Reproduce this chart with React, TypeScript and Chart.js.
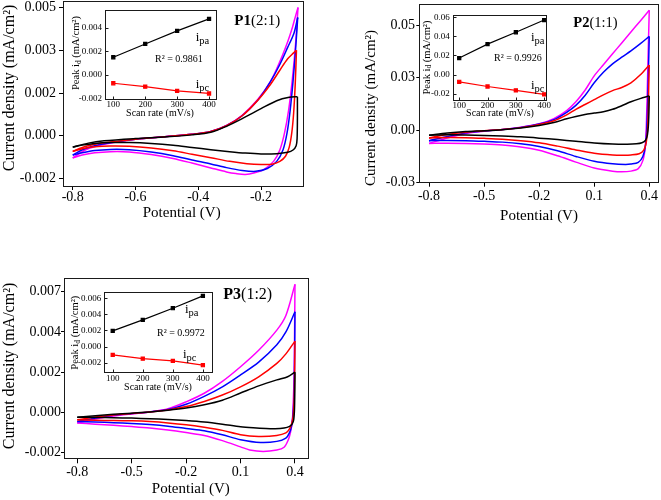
import React, { useEffect, useRef } from "react";
import { Chart, registerables } from "chart.js";
Chart.register(...registerables);

type Pt = [number, number];

// ---------------- P1 (2:1) : potential (V) vs current density ----------------
const p1BlackFwd: Pt[] = [[-0.8,-0.0004],[-0.75,-0.00026],[-0.7,-0.00018],[-0.6,-0.0001],[-0.5,-0.00004],[-0.42,0.00003],[-0.36,0.00012],[-0.31,0.00033],[-0.26,0.0006],[-0.2,0.00095],[-0.15,0.00123],[-0.11,0.00135],[-0.084,0.00137]];
const p1BlackRev: Pt[] = [[-0.084,0.00137],[-0.084,0.0006],[-0.085,-0.0001],[-0.088,-0.00035],[-0.098,-0.0005],[-0.115,-0.00058],[-0.15,-0.00063],[-0.2,-0.00064],[-0.25,-0.00061],[-0.3,-0.00056],[-0.36,-0.00049],[-0.42,-0.00041],[-0.48,-0.00033],[-0.55,-0.00027],[-0.62,-0.00024],[-0.68,-0.00024],[-0.73,-0.00027],[-0.77,-0.00033],[-0.8,-0.0004]];
const p1RedFwd: Pt[] = [[-0.8,-0.00055],[-0.76,-0.00038],[-0.7,-0.00025],[-0.6,-0.00012],[-0.5,-0.00003],[-0.42,0.00005],[-0.36,0.00015],[-0.31,0.00035],[-0.26,0.0007],[-0.21,0.00125],[-0.17,0.0018],[-0.14,0.0023],[-0.115,0.0027],[-0.097,0.0029],[-0.087,0.003]];
const p1RedRev: Pt[] = [[-0.087,0.003],[-0.091,0.0018],[-0.096,0.0008],[-0.102,0.0001],[-0.11,-0.0004],[-0.122,-0.00072],[-0.14,-0.0009],[-0.165,-0.001],[-0.2,-0.00101],[-0.245,-0.00098],[-0.3,-0.0009],[-0.36,-0.00077],[-0.42,-0.00065],[-0.48,-0.00053],[-0.55,-0.00043],[-0.62,-0.00037],[-0.68,-0.00036],[-0.73,-0.00039],[-0.77,-0.00046],[-0.8,-0.00055]];
const p1BlueFwd: Pt[] = [[-0.8,-0.00068],[-0.76,-0.00045],[-0.7,-0.00028],[-0.6,-0.00012],[-0.5,-0.00003],[-0.42,0.00005],[-0.36,0.00015],[-0.31,0.00035],[-0.26,0.0007],[-0.21,0.00125],[-0.17,0.0019],[-0.14,0.0025],[-0.115,0.0031],[-0.095,0.0036],[-0.083,0.00415]];
const p1BlueRev: Pt[] = [[-0.083,0.00415],[-0.09,0.003],[-0.098,0.0019],[-0.107,0.0009],[-0.117,0.0001],[-0.13,-0.0005],[-0.15,-0.0009],[-0.18,-0.00115],[-0.217,-0.00125],[-0.26,-0.00122],[-0.31,-0.00112],[-0.36,-0.00099],[-0.42,-0.00085],[-0.48,-0.0007],[-0.55,-0.00057],[-0.62,-0.00049],[-0.68,-0.00048],[-0.73,-0.00052],[-0.77,-0.0006],[-0.8,-0.00068]];
const p1MagentaFwd: Pt[] = [[-0.8,-0.00078],[-0.76,-0.0005],[-0.7,-0.0003],[-0.6,-0.00012],[-0.5,-0.00003],[-0.42,0.00005],[-0.36,0.00015],[-0.31,0.00036],[-0.26,0.00072],[-0.21,0.00128],[-0.17,0.0019],[-0.14,0.0026],[-0.115,0.0033],[-0.1,0.0038],[-0.09,0.0042],[-0.082,0.0045]];
const p1MagentaRev: Pt[] = [[-0.082,0.0045],[-0.09,0.0032],[-0.1,0.002],[-0.112,0.0009],[-0.125,0.0001],[-0.14,-0.0005],[-0.16,-0.0009],[-0.19,-0.00118],[-0.22,-0.0013],[-0.25,-0.00136],[-0.28,-0.00133],[-0.31,-0.00127],[-0.36,-0.00113],[-0.42,-0.00096],[-0.48,-0.0008],[-0.55,-0.00066],[-0.62,-0.00057],[-0.68,-0.00056],[-0.73,-0.0006],[-0.77,-0.00068],[-0.8,-0.00078]];

// ---------------- P2 (1:1) ----------------
const p2BlackFwd: Pt[] = [[-0.8,-0.0024],[-0.7,-0.0014],[-0.6,-0.0007],[-0.5,-0.0003],[-0.4,0.0002],[-0.3,0.001],[-0.2,0.0022],[-0.12,0.0036],[-0.05,0.0054],[0.0,0.0065],[0.05,0.0074],[0.1,0.0081],[0.15,0.0088],[0.2,0.0099],[0.25,0.0116],[0.3,0.0135],[0.35,0.015],[0.4,0.0163]];
const p2BlackRev: Pt[] = [[0.4,0.0163],[0.398,0.008],[0.395,0.002],[0.39,-0.0022],[0.38,-0.0048],[0.36,-0.006],[0.33,-0.0065],[0.28,-0.0067],[0.2,-0.0066],[0.1,-0.0061],[0.0,-0.0053],[-0.1,-0.0045],[-0.2,-0.0038],[-0.3,-0.0032],[-0.4,-0.0028],[-0.5,-0.0025],[-0.6,-0.0023],[-0.7,-0.0022],[-0.8,-0.0024]];
const p2RedFwd: Pt[] = [[-0.8,-0.0037],[-0.7,-0.0021],[-0.6,-0.001],[-0.5,-0.0003],[-0.4,0.0003],[-0.3,0.0012],[-0.2,0.0027],[-0.12,0.0045],[-0.05,0.0073],[0.0,0.0099],[0.05,0.0122],[0.1,0.0145],[0.15,0.0168],[0.2,0.0188],[0.25,0.0203],[0.3,0.0225],[0.35,0.0262],[0.4,0.031]];
const p2RedRev: Pt[] = [[0.4,0.031],[0.397,0.02],[0.394,0.008],[0.39,0.0],[0.383,-0.006],[0.37,-0.0095],[0.345,-0.0112],[0.3,-0.0118],[0.26,-0.0119],[0.2,-0.0118],[0.1,-0.011],[0.0,-0.0094],[-0.1,-0.0076],[-0.2,-0.006],[-0.3,-0.005],[-0.4,-0.0043],[-0.5,-0.0039],[-0.6,-0.0036],[-0.7,-0.0035],[-0.8,-0.0037]];
const p2BlueFwd: Pt[] = [[-0.8,-0.005],[-0.7,-0.003],[-0.6,-0.0013],[-0.5,-0.0004],[-0.4,0.0003],[-0.3,0.0013],[-0.2,0.0029],[-0.12,0.005],[-0.05,0.0085],[0.0,0.0118],[0.05,0.0165],[0.1,0.0225],[0.15,0.0275],[0.2,0.0315],[0.25,0.0347],[0.3,0.0377],[0.35,0.041],[0.4,0.0446]];
const p2BlueRev: Pt[] = [[0.4,0.0446],[0.396,0.03],[0.392,0.015],[0.387,0.002],[0.38,-0.007],[0.365,-0.0125],[0.34,-0.0153],[0.3,-0.0161],[0.27,-0.0163],[0.2,-0.016],[0.1,-0.0148],[0.0,-0.0125],[-0.1,-0.0098],[-0.2,-0.0078],[-0.3,-0.0065],[-0.4,-0.0057],[-0.5,-0.0053],[-0.6,-0.005],[-0.7,-0.0049],[-0.8,-0.005]];
const p2MagentaFwd: Pt[] = [[-0.8,-0.0063],[-0.7,-0.0037],[-0.6,-0.0016],[-0.5,-0.0005],[-0.4,0.0003],[-0.3,0.0014],[-0.2,0.003],[-0.12,0.0055],[-0.05,0.0093],[0.0,0.0135],[0.05,0.019],[0.1,0.0258],[0.15,0.0311],[0.2,0.0363],[0.25,0.0415],[0.3,0.0467],[0.35,0.0518],[0.4,0.057]];
const p2MagentaRev: Pt[] = [[0.4,0.057],[0.395,0.04],[0.39,0.022],[0.385,0.005],[0.378,-0.008],[0.365,-0.0145],[0.34,-0.0183],[0.3,-0.0195],[0.25,-0.0198],[0.2,-0.0195],[0.1,-0.018],[0.0,-0.0152],[-0.1,-0.0122],[-0.2,-0.0096],[-0.3,-0.008],[-0.4,-0.0071],[-0.5,-0.0066],[-0.6,-0.0063],[-0.7,-0.0062],[-0.8,-0.0063]];

// ---------------- P3 (1:2) ----------------
const p3BlackFwd: Pt[] = [[-0.8,-0.00026],[-0.7,-0.00018],[-0.6,-0.0001],[-0.5,-0.00004],[-0.4,0.00003],[-0.3,0.00012],[-0.2,0.00024],[-0.1,0.00042],[0.0,0.00067],[0.1,0.00106],[0.2,0.00145],[0.3,0.00178],[0.36,0.00195],[0.4,0.0022]];
const p3BlackRev: Pt[] = [[0.4,0.0022],[0.399,0.001],[0.397,0.0001],[0.393,-0.0004],[0.385,-0.00062],[0.37,-0.00076],[0.34,-0.00085],[0.29,-0.00089],[0.24,-0.00088],[0.17,-0.00084],[0.1,-0.00078],[0.0,-0.00064],[-0.1,-0.00052],[-0.2,-0.00044],[-0.3,-0.00038],[-0.4,-0.00034],[-0.5,-0.00031],[-0.6,-0.00029],[-0.7,-0.00027],[-0.8,-0.00026]];
const p3RedFwd: Pt[] = [[-0.8,-0.0004],[-0.7,-0.00025],[-0.6,-0.00014],[-0.5,-0.00006],[-0.4,0.00002],[-0.3,0.00014],[-0.2,0.00032],[-0.1,0.0006],[0.0,0.00095],[0.1,0.0014],[0.2,0.00195],[0.3,0.00268],[0.35,0.0032],[0.4,0.0039]];
const p3RedRev: Pt[] = [[0.4,0.0039],[0.398,0.002],[0.395,0.0006],[0.39,-0.0002],[0.382,-0.0006],[0.37,-0.0009],[0.35,-0.00112],[0.3,-0.00126],[0.2,-0.00131],[0.1,-0.00122],[0.0,-0.00098],[-0.1,-0.00081],[-0.2,-0.00067],[-0.3,-0.00057],[-0.4,-0.0005],[-0.5,-0.00046],[-0.6,-0.00044],[-0.7,-0.00043],[-0.8,-0.0004]];
const p3BlueFwd: Pt[] = [[-0.8,-0.00049],[-0.7,-0.0003],[-0.6,-0.00016],[-0.5,-0.00006],[-0.4,0.00003],[-0.3,0.00016],[-0.2,0.00045],[-0.1,0.00088],[0.0,0.0014],[0.1,0.00205],[0.2,0.00275],[0.3,0.0037],[0.35,0.0044],[0.4,0.0055]];
const p3BlueRev: Pt[] = [[0.4,0.0055],[0.398,0.003],[0.395,0.001],[0.39,0.0],[0.382,-0.0007],[0.37,-0.0011],[0.35,-0.0014],[0.3,-0.00158],[0.21,-0.00164],[0.1,-0.00149],[0.0,-0.00122],[-0.1,-0.001],[-0.2,-0.00088],[-0.3,-0.00075],[-0.4,-0.00066],[-0.5,-0.0006],[-0.6,-0.00056],[-0.7,-0.00052],[-0.8,-0.00049]];
const p3MagentaFwd: Pt[] = [[-0.8,-0.00058],[-0.7,-0.00036],[-0.6,-0.0002],[-0.5,-0.00008],[-0.4,0.00003],[-0.3,0.0002],[-0.2,0.00058],[-0.1,0.00105],[0.0,0.0017],[0.1,0.0025],[0.2,0.0034],[0.3,0.0045],[0.35,0.0053],[0.4,0.007]];
const p3MagentaRev: Pt[] = [[0.4,0.007],[0.398,0.0045],[0.395,0.002],[0.39,0.0004],[0.385,-0.0005],[0.375,-0.0011],[0.363,-0.0015],[0.34,-0.0019],[0.3,-0.00205],[0.225,-0.00213],[0.15,-0.00205],[0.1,-0.00188],[0.0,-0.00154],[-0.1,-0.00126],[-0.2,-0.0011],[-0.3,-0.00096],[-0.4,-0.00085],[-0.5,-0.00077],[-0.6,-0.0007],[-0.7,-0.00064],[-0.8,-0.00058]];

// ---------------- tick values / labels ----------------
const p1XTicks = [-0.8, -0.6, -0.4, -0.2];
const p1YTickValues = [-0.0015, 0, 0.0015, 0.003, 0.0045];
const p1YTickLabels = ["-0.002", "0.000", "0.002", "0.003", "0.005"];
const p2XTicks = [-0.8, -0.5, -0.2, 0.1, 0.4];
const p2YTickValues = [-0.025, 0, 0.025, 0.05];
const p2YTickLabels = ["-0.03", "0.00", "0.03", "0.05"];
const p3XTicks = [-0.8, -0.5, -0.2, 0.1, 0.4];
const p3YTickValues = [-0.0022, 0, 0.0022, 0.0044, 0.0066];
const p3YTickLabels = ["-0.002", "0.000", "0.002", "0.004", "0.007"];

// ---------------- insets: peak current vs scan rate ----------------
const scanRates = [100, 200, 300, 400];
const p1Ipa = [0.0015, 0.00262, 0.00372, 0.00473];
const p1Ipc = [-0.00069, -0.00097, -0.00133, -0.00155];
const p2Ipa = [0.0173, 0.0319, 0.0443, 0.0571];
const p2Ipc = [-0.0076, -0.0125, -0.0166, -0.0208];
const p3Ipa = [0.00195, 0.00332, 0.00477, 0.0063];
const p3Ipc = [-0.00103, -0.00149, -0.00178, -0.00231];
const insetXTicks = [100, 200, 300, 400];
const p1InsetYTicks = [-0.002, 0, 0.002, 0.004];
const p1InsetYLabels = ["-0.002", "0.000", "0.002", "0.004"];
const p2InsetYTicks = [-0.02, 0, 0.02, 0.04, 0.06];
const p2InsetYLabels = ["-0.02", "0.00", "0.02", "0.04", "0.06"];
const p3InsetYTicks = [-0.002, 0, 0.002, 0.004, 0.006];
const p3InsetYLabels = ["-0.002", "0.000", "0.002", "0.004", "0.006"];
const r2Values = ["0.9861", "0.9926", "0.9972"];

const FONT = "'Liberation Serif', 'Times New Roman', serif";
const COLORS = { black: "#000000", red: "#ff0000", blue: "#0000ff", magenta: "#ff00ff" };

interface Frame { left: number; top: number; width: number; height: number }
interface Area { left: number; top: number; right: number; bottom: number }
interface Seg { t: string; size: number; bold?: boolean; dy?: number }
interface TextItem { segs: Seg[]; x: number; y: number; align: "left" | "center"; baseline: "middle" | "alphabetic"; rotate?: boolean }

function drawRich(ctx: CanvasRenderingContext2D, it: TextItem, ox: number, oy: number) {
  ctx.save();
  ctx.translate(it.x - ox, it.y - oy);
  if (it.rotate) ctx.rotate(-Math.PI / 2);
  ctx.textBaseline = it.baseline;
  ctx.textAlign = "left";
  ctx.fillStyle = "#000";
  const fnt = (s: Seg) => `${s.bold ? "bold " : ""}${s.size}px ${FONT}`;
  let total = 0;
  for (const s of it.segs) { ctx.font = fnt(s); total += ctx.measureText(s.t).width; }
  let cx = it.align === "center" ? -total / 2 : 0;
  for (const s of it.segs) {
    ctx.font = fnt(s);
    ctx.fillText(s.t, cx, s.dy || 0);
    cx += ctx.measureText(s.t).width;
  }
  ctx.restore();
}

function decorPlugin(frame: Frame, texts: TextItem[], innerTicks: boolean) {
  return {
    id: "decor",
    afterDraw(chart: any) {
      const ctx: CanvasRenderingContext2D = chart.ctx;
      const a = chart.chartArea;
      ctx.save();
      ctx.strokeStyle = "#1a1a1a";
      ctx.lineWidth = 1;
      const l = Math.round(a.left) + 0.5, t = Math.round(a.top) + 0.5;
      const r = Math.round(a.right) - 0.5, b = Math.round(a.bottom) - 0.5;
      ctx.strokeRect(l, t, r - l, b - t);
      if (innerTicks) {
        const xs = chart.scales.x, ys = chart.scales.y;
        ctx.beginPath();
        xs.ticks.forEach((tk: any) => {
          const px = Math.round(xs.getPixelForValue(tk.value)) + 0.5;
          ctx.moveTo(px, b); ctx.lineTo(px, b - 3);
        });
        ys.ticks.forEach((tk: any) => {
          const py = Math.round(ys.getPixelForValue(tk.value)) + 0.5;
          ctx.moveTo(l, py); ctx.lineTo(l + 3, py);
        });
        ctx.stroke();
      }
      ctx.restore();
      texts.forEach((it) => drawRich(ctx, it, frame.left, frame.top));
    },
  };
}

interface AxisStyle { tickLen: number; pad: number; size: number }
interface PanelSpec {
  frame: Frame; area: Area;
  xMin: number; xMax: number; yMin: number; yMax: number;
  xTicks: number[]; yTickValues: number[]; yTickLabels: string[];
  xAxis: AxisStyle; yAxis: AxisStyle;
  datasets: any[]; texts: TextItem[]; innerTicks: boolean;
}

function makeConfig(s: PanelSpec): any {
  const { frame, area } = s;
  const zero = (sc: any) => { sc.paddingLeft = 0; sc.paddingRight = 0; sc.paddingTop = 0; sc.paddingBottom = 0; };
  const grid = (ax: AxisStyle) => ({
    display: true, drawOnChartArea: false, drawTicks: ax.tickLen > 0, tickLength: ax.tickLen, color: "#000", lineWidth: 1,
  });
  return {
    type: "scatter",
    data: { datasets: s.datasets },
    options: {
      animation: false, responsive: false, devicePixelRatio: 1, events: [],
      layout: { padding: { top: area.top - frame.top, right: frame.left + frame.width - area.right, left: 0, bottom: 0 } },
      plugins: { legend: { display: false }, tooltip: { enabled: false } },
      scales: {
        x: {
          type: "linear", min: s.xMin, max: s.xMax,
          afterBuildTicks: (sc: any) => { sc.ticks = s.xTicks.map((v) => ({ value: v })); },
          afterFit: (sc: any) => { sc.height = frame.top + frame.height - area.bottom; zero(sc); },
          ticks: { autoSkip: false, maxRotation: 0, padding: s.xAxis.pad, color: "#000", font: { family: FONT, size: s.xAxis.size, lineHeight: 1 }, callback: (v: number) => String(v) },
          grid: grid(s.xAxis), border: { display: false }, title: { display: false },
        },
        y: {
          type: "linear", min: s.yMin, max: s.yMax,
          afterBuildTicks: (sc: any) => { sc.ticks = s.yTickValues.map((v) => ({ value: v })); },
          afterFit: (sc: any) => { sc.width = area.left - frame.left; zero(sc); },
          ticks: {
            autoSkip: false, padding: s.yAxis.pad, color: "#000", font: { family: FONT, size: s.yAxis.size, lineHeight: 1 },
            callback: (v: number) => { const i = s.yTickValues.findIndex((t) => Math.abs(t - v) < 1e-12); return i >= 0 ? s.yTickLabels[i] : ""; },
          },
          grid: grid(s.yAxis), border: { display: false }, title: { display: false },
        },
      },
    },
    plugins: [decorPlugin(frame, s.texts, s.innerTicks)],
  };
}

function cvDatasets(branches: { color: string; fwd: Pt[]; rev: Pt[] }[]) {
  const out: any[] = [];
  branches.forEach((b) => {
    [b.fwd, b.rev].forEach((br) => out.push({
      data: br.map(([x, y]) => ({ x, y })),
      borderColor: b.color, backgroundColor: b.color, borderWidth: 1.5,
      showLine: true, pointRadius: 0, tension: 0.3, fill: false,
    }));
  });
  return out;
}

function insetDatasets(ipa: number[], ipc: number[]) {
  const mk = (vals: number[], color: string) => ({
    data: scanRates.map((x, i) => ({ x, y: vals[i] })),
    borderColor: color, backgroundColor: color, borderWidth: 1.2, showLine: true,
    pointRadius: 2.2, pointStyle: "rect", tension: 0, fill: false,
  });
  return [mk(ipa, COLORS.black), mk(ipc, COLORS.red)];
}

const mainAxisX = (tickLen: number, pad: number): AxisStyle => ({ tickLen, pad, size: 14 });
const insetX: AxisStyle = { tickLen: 0, pad: 0.5, size: 9 };
const insetY: AxisStyle = { tickLen: 0, pad: 3, size: 9 };

function cvTexts(yTitle: [number, number, number], xTitle: [number, number], label: [string, string, number, number, number]): TextItem[] {
  return [
    { segs: [{ t: "Current density (mA/cm²)", size: yTitle[2] }], x: yTitle[0], y: yTitle[1], align: "center", baseline: "middle", rotate: true },
    { segs: [{ t: "Potential (V)", size: 15 }], x: xTitle[0], y: xTitle[1], align: "center", baseline: "middle" },
    { segs: [{ t: label[0], size: label[4], bold: true }, { t: label[1], size: label[4] }], x: label[2], y: label[3], align: "left", baseline: "alphabetic" },
  ];
}

function insetTexts(yT: [number, number], xTitle: [number, number], r2: string, r2Pos: [number, number], ipa: [number, number], ipc: [number, number]): TextItem[] {
  return [
    { segs: [{ t: "Peak i", size: 10.5 }, { t: "d", size: 7.5, dy: 2.5 }, { t: " (mA/cm²)", size: 10.5 }], x: yT[0], y: yT[1], align: "center", baseline: "middle", rotate: true },
    { segs: [{ t: "Scan rate (mV/s)", size: 10 }], x: xTitle[0], y: xTitle[1], align: "center", baseline: "middle" },
    { segs: [{ t: "R² = " + r2, size: 10 }], x: r2Pos[0], y: r2Pos[1], align: "left", baseline: "middle" },
    { segs: [{ t: "i", size: 13 }, { t: "pa", size: 10.5, dy: 3 }], x: ipa[0], y: ipa[1], align: "left", baseline: "alphabetic" },
    { segs: [{ t: "i", size: 13 }, { t: "pc", size: 10.5, dy: 3 }], x: ipc[0], y: ipc[1], align: "left", baseline: "alphabetic" },
  ];
}

// ---------------- panel specs ----------------
function buildSpecs(): PanelSpec[] {
  const p1Frame: Frame = { left: 0, top: 0, width: 312, height: 235 };
  const p2Frame: Frame = { left: 340, top: 0, width: 321, height: 235 };
  const p3Frame: Frame = { left: 0, top: 255, width: 320, height: 245 };

  const p1 = cvDatasets([
    { color: COLORS.black, fwd: p1BlackFwd, rev: p1BlackRev },
    { color: COLORS.red, fwd: p1RedFwd, rev: p1RedRev },
    { color: COLORS.blue, fwd: p1BlueFwd, rev: p1BlueRev },
    { color: COLORS.magenta, fwd: p1MagentaFwd, rev: p1MagentaRev },
  ]);
  const p2 = cvDatasets([
    { color: COLORS.black, fwd: p2BlackFwd, rev: p2BlackRev },
    { color: COLORS.red, fwd: p2RedFwd, rev: p2RedRev },
    { color: COLORS.blue, fwd: p2BlueFwd, rev: p2BlueRev },
    { color: COLORS.magenta, fwd: p2MagentaFwd, rev: p2MagentaRev },
  ]);
  const p3 = cvDatasets([
    { color: COLORS.black, fwd: p3BlackFwd, rev: p3BlackRev },
    { color: COLORS.red, fwd: p3RedFwd, rev: p3RedRev },
    { color: COLORS.blue, fwd: p3BlueFwd, rev: p3BlueRev },
    { color: COLORS.magenta, fwd: p3MagentaFwd, rev: p3MagentaRev },
  ]);

  return [
    {
      frame: p1Frame, area: { left: 63, top: 1, right: 304, bottom: 187 },
      xMin: -0.831, xMax: -0.063, yMin: -0.0018, yMax: 0.00473,
      xTicks: p1XTicks, yTickValues: p1YTickValues, yTickLabels: p1YTickLabels,
      xAxis: mainAxisX(3, 0), yAxis: { tickLen: 4, pad: 3, size: 14 },
      datasets: p1, innerTicks: false,
      texts: cvTexts([10, 88, 16], [181.7, 213], ["P1", "(2:1)", 234.3, 25, 15]),
    },
    {
      frame: p2Frame, area: { left: 419.3, top: 4, right: 659, bottom: 182.7 },
      xMin: -0.853, xMax: 0.453, yMin: -0.025, yMax: 0.06,
      xTicks: p2XTicks, yTickValues: p2YTickValues, yTickLabels: p2YTickLabels,
      xAxis: mainAxisX(4, 3), yAxis: { tickLen: 3, pad: 1.3, size: 14 },
      datasets: p2, innerTicks: false,
      texts: cvTexts([371, 108, 15], [539, 216], ["P2", "(1:1)", 573.3, 26.7, 14.5]),
    },
    {
      frame: p3Frame, area: { left: 64, top: 278.3, right: 309.3, bottom: 459.3 },
      xMin: -0.873, xMax: 0.479, yMin: -0.00256, yMax: 0.00733,
      xTicks: p3XTicks, yTickValues: p3YTickValues, yTickLabels: p3YTickLabels,
      xAxis: mainAxisX(4, 2.4), yAxis: { tickLen: 3, pad: 0, size: 14 },
      datasets: p3, innerTicks: false,
      texts: cvTexts([10, 366, 16], [190.8, 489.3], ["P3", "(1:2)", 223.3, 299, 16]),
    },
    {
      frame: { left: 66, top: 4, width: 158, height: 120 }, area: { left: 105, top: 10, right: 216.7, bottom: 100 },
      xMin: 74, xMax: 424, yMin: -0.0021, yMax: 0.00548,
      xTicks: insetXTicks, yTickValues: p1InsetYTicks, yTickLabels: p1InsetYLabels,
      xAxis: insetX, yAxis: insetY, datasets: insetDatasets(p1Ipa, p1Ipc), innerTicks: true,
      texts: insetTexts([76.5, 53], [160, 113.3], r2Values[0], [155, 59], [195.7, 41], [195.7, 87.5]),
    },
    {
      frame: { left: 418, top: 8, width: 135, height: 116 }, area: { left: 452.7, top: 15, right: 547.3, bottom: 101 },
      xMin: 77, xMax: 411, yMin: -0.0277, yMax: 0.0624,
      xTicks: insetXTicks, yTickValues: p2InsetYTicks, yTickLabels: p2InsetYLabels,
      xAxis: insetX, yAxis: insetY, datasets: insetDatasets(p2Ipa, p2Ipc), innerTicks: true,
      texts: insetTexts([427, 57.5], [500, 113.3], r2Values[1], [494, 58.5], [531, 40.5], [531, 88.5]),
    },
    {
      frame: { left: 66, top: 285, width: 152, height: 110 }, area: { left: 104.3, top: 291.7, right: 213.3, bottom: 373.3 },
      xMin: 72, xMax: 433, yMin: -0.00332, yMax: 0.00682,
      xTicks: insetXTicks, yTickValues: p3InsetYTicks, yTickLabels: p3InsetYLabels,
      xAxis: insetX, yAxis: insetY, datasets: insetDatasets(p3Ipa, p3Ipc), innerTicks: true,
      texts: insetTexts([75.3, 332.7], [158, 387.3], r2Values[2], [157, 333.5], [185, 313], [183, 357.5]),
    },
  ];
}

function ChartCanvas({ spec, z }: { spec: PanelSpec; z: number }) {
  const ref = useRef<HTMLCanvasElement>(null);
  useEffect(() => {
    if (!ref.current) return;
    const chart = new Chart(ref.current, makeConfig(spec));
    return () => chart.destroy();
  }, [spec]);
  const f = spec.frame;
  return (
    <canvas
      ref={ref}
      width={f.width}
      height={f.height}
      style={{ position: "absolute", left: f.left, top: f.top, width: f.width, height: f.height, zIndex: z }}
    />
  );
}

const SPECS = buildSpecs();

export default function App() {
  return (
    <div style={{ position: "fixed", left: 0, top: 0, width: 661, height: 500, background: "#fff", overflow: "hidden" }}>
      {SPECS.map((s, i) => (
        <ChartCanvas key={i} spec={s} z={i < 3 ? 1 : 2} />
      ))}
    </div>
  );
}
